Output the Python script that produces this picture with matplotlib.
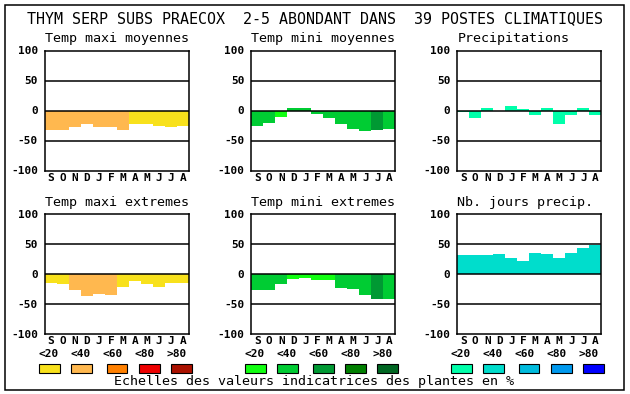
import matplotlib
matplotlib.use('Agg')
import matplotlib.pyplot as plt
from matplotlib.patches import Rectangle

W, H = 630, 394

months = ['S', 'O', 'N', 'D', 'J', 'F', 'M', 'A', 'M', 'J', 'J', 'A']
class_labels = ['<20', '<40', '<60', '<80', '>80']
yticks = [100, 50, 0, -50, -100]

warm_colours = ['#F8E11C', '#FFB84F', '#FF8000', '#EE0000', '#AA1100']
green_colours = ['#11FF11', '#00CC33', '#009933', '#007F00', '#006622']
blue_colours = ['#00FFAA', '#00DDCC', '#00BBDD', '#0099EE', '#0000FF']

# values (%) and indicator class per month
tmax_moy = [-33, -33, -28, -23, -28, -27, -33, -23, -22, -25, -27, -25]
tmax_moy_cls = [1, 1, 1, 1, 1, 1, 1, 0, 0, 0, 0, 0]
tmin_moy = [-25, -21, -11, 4, 5, -5, -13, -23, -31, -34, -32, -31]
tmin_moy_cls = [1, 1, 0, 1, 1, 1, 1, 1, 1, 1, 2, 1]
precip = [-2, -12, 4, 0, 7, 2, -7, 5, -22, -7, 4, -7]
precip_cls = [0] * 12
tmax_ext = [-14, -16, -27, -37, -33, -34, -22, -11, -16, -22, -14, -14]
tmax_ext_cls = [0, 0, 1, 1, 1, 1, 0, 0, 0, 0, 0, 0]
tmin_ext = [-26, -26, -16, -8, -6, -10, -10, -23, -24, -34, -42, -41]
tmin_ext_cls = [1, 1, 1, 0, 0, 0, 0, 1, 1, 1, 2, 1]
jours_precip = [32, 32, 32, 34, 27, 22, 36, 34, 27, 36, 44, 48]
jours_precip_cls = [1] * 12

panels = [
    ('Temp maxi moyennes', tmax_moy, tmax_moy_cls, warm_colours),
    ('Temp mini moyennes', tmin_moy, tmin_moy_cls, green_colours),
    ('Precipitations', precip, precip_cls, blue_colours),
    ('Temp maxi extremes', tmax_ext, tmax_ext_cls, warm_colours),
    ('Temp mini extremes', tmin_ext, tmin_ext_cls, green_colours),
    ('Nb. jours precip.', jours_precip, jours_precip_cls, blue_colours),
]

plt.rcParams['font.family'] = 'DejaVu Sans Mono'

fig = plt.figure(figsize=(W / 100, H / 100), dpi=100)
fig.patch.set_facecolor('white')

col_left = [45, 251.3, 457.3]
row_bottom = [170.5, 334.3]
ax_w, ax_h = 144, 120

for i, (title, vals, cls, pal) in enumerate(panels):
    r, c = divmod(i, 3)
    ax = fig.add_axes([col_left[c] / W, 1 - row_bottom[r] / H, ax_w / W, ax_h / H])
    x = list(range(len(months)))
    ax.bar(x, vals, width=1.0, color=[pal[k] for k in cls], linewidth=0, zorder=2)
    for yv in (50, 0, -50):
        ax.axhline(yv, color='black', lw=1.1, zorder=3)
    ax.set_xlim(-0.5, 11.5)
    ax.set_ylim(-100, 100)
    ax.set_xticks(x)
    ax.set_xticklabels(months, fontsize=8, fontweight='bold')
    ax.set_yticks(yticks)
    ax.set_yticklabels([str(v) for v in yticks], fontsize=8, fontweight='bold')
    ax.tick_params(length=0)
    ax.tick_params(axis='y', pad=5)
    ax.tick_params(axis='x', pad=1.5)
    for s in ax.spines.values():
        s.set_linewidth(1.1)
    ax.set_title(title, loc='left', fontsize=9.6, pad=6)

# legend scales under each column
box_off = [-6, 26, 61.5, 94, 126]
lab_off = [3.5, 35.4, 67.7, 99.4, 131.7]
for c, pal in enumerate([warm_colours, green_colours, blue_colours]):
    for k in range(5):
        x0 = col_left[c] + box_off[k]
        fig.add_artist(Rectangle((x0 / W, 1 - 373.3 / H), 20.7 / W, 9 / H,
                                 transform=fig.transFigure, facecolor=pal[k],
                                 edgecolor='black', lw=0.8))
        fig.text((col_left[c] + lab_off[k]) / W, 1 - 354 / H, class_labels[k],
                 ha='center', va='center', fontsize=8, fontweight='bold')

fig.text(0.5, 1 - 18.3 / H,
         'THYM SERP SUBS PRAECOX  2-5 ABONDANT DANS  39 POSTES CLIMATIQUES',
         ha='center', va='center', fontsize=10.8)
fig.text(314.5 / W, 1 - 382 / H, 'Echelles des valeurs indicatrices des plantes en %',
         ha='center', va='center', fontsize=9.6)

fig.add_artist(Rectangle((5 / W, 1 - 390 / H), 619 / W, 385 / H,
                         transform=fig.transFigure, fill=False,
                         edgecolor='black', lw=1.1))

fig.savefig('out.png', dpi=100)
